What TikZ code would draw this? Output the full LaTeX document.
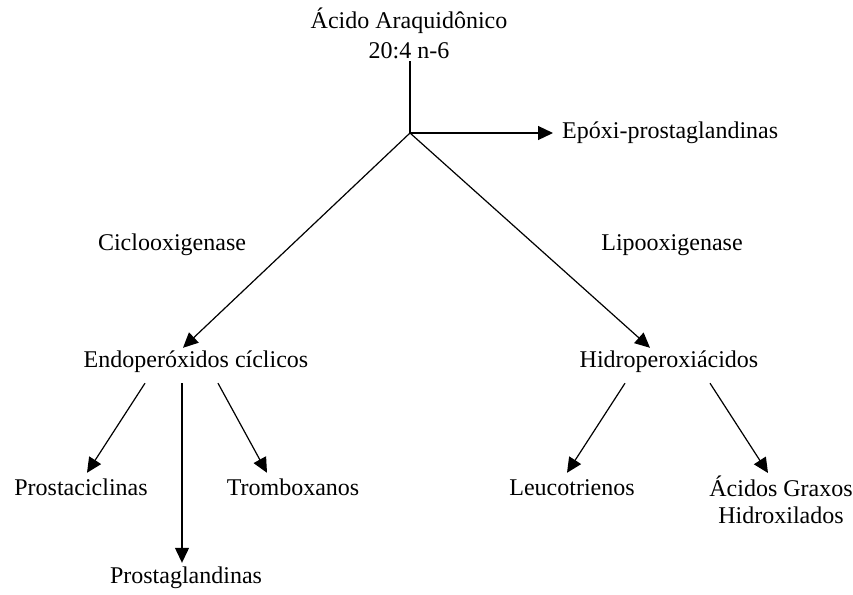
\documentclass[tikz,border=0pt]{standalone}
\usepackage{fontspec}
\setmainfont{Liberation Serif}
\usetikzlibrary{arrows.meta,positioning}
\tikzset{lbl/.style={font=\fontsize{24}{27}\selectfont,inner sep=0pt}}
\tikzset{row/.style={lbl,text height=16pt,text depth=5pt}}
\tikzset{arr/.style={-{Triangle[length=15pt,width=14pt]},line width=1.2pt}}

\begin{document}
\begin{tikzpicture}[x=1pt,y=-1pt]
\useasboundingbox (0,0) rectangle (853,594);
% \draw[help lines,step=50] (0,0) grid (853,594);
\node (aa) [lbl,align=center,anchor=north] at (409,8) {Ácido Araquidônico\\[3pt]20:4 n-6};
\coordinate (jn) at (410,133);
\node (epx) [row,anchor=west] at (562,133) {Epóxi-prostaglandinas};
\node (cox) [row] at (172,245) {Ciclooxigenase};
\node (lox) [row] at (672,245) {Lipooxigenase};
\node (endo) [row] at (196,362) {Endoperóxidos cíclicos};
\node (hid) [row] at (669,362) {Hidroperoxiácidos};
\node (prc) [row] at (81,490) {Prostaciclinas};
\node (trb) [row] at (293,490) {Tromboxanos};
\node (prg) [row] at (186,578) {Prostaglandinas};
\node (leu) [row] at (572,490) {Leucotrienos};
\node (agx) [lbl,align=center,anchor=north] at (781,476) {Ácidos Graxos\\Hidroxilados};
%
\draw[line width=1.2pt] ([yshift=-2pt]aa.south -| jn) -- (jn);
\draw[arr] (jn) -- ([xshift=-9pt]epx.west);
\draw[arr] (jn) -- ([xshift=-13pt,yshift=3.5pt]endo.north);
\draw[arr] (jn) -- ([xshift=-19pt,yshift=3.5pt]hid.north);
%
\draw[arr] ([xshift=-51pt,yshift=-10.5pt]endo.south) -- ([xshift=6pt,yshift=6.5pt]prc.north);
\draw[arr] ([xshift=-14pt,yshift=-10.5pt]endo.south) -- ([xshift=-4pt,yshift=4.5pt]prg.north);
\draw[arr] ([xshift=22pt,yshift=-10.5pt]endo.south) -- ([xshift=-26pt,yshift=6.5pt]trb.north);
\draw[arr] ([xshift=-44pt,yshift=-10.5pt]hid.south) -- ([xshift=-5pt,yshift=6.5pt]leu.north);
\draw[arr] ([xshift=41pt,yshift=-10.5pt]hid.south) -- ([xshift=-13pt,yshift=3pt]agx.north);
\end{tikzpicture}
\end{document}
